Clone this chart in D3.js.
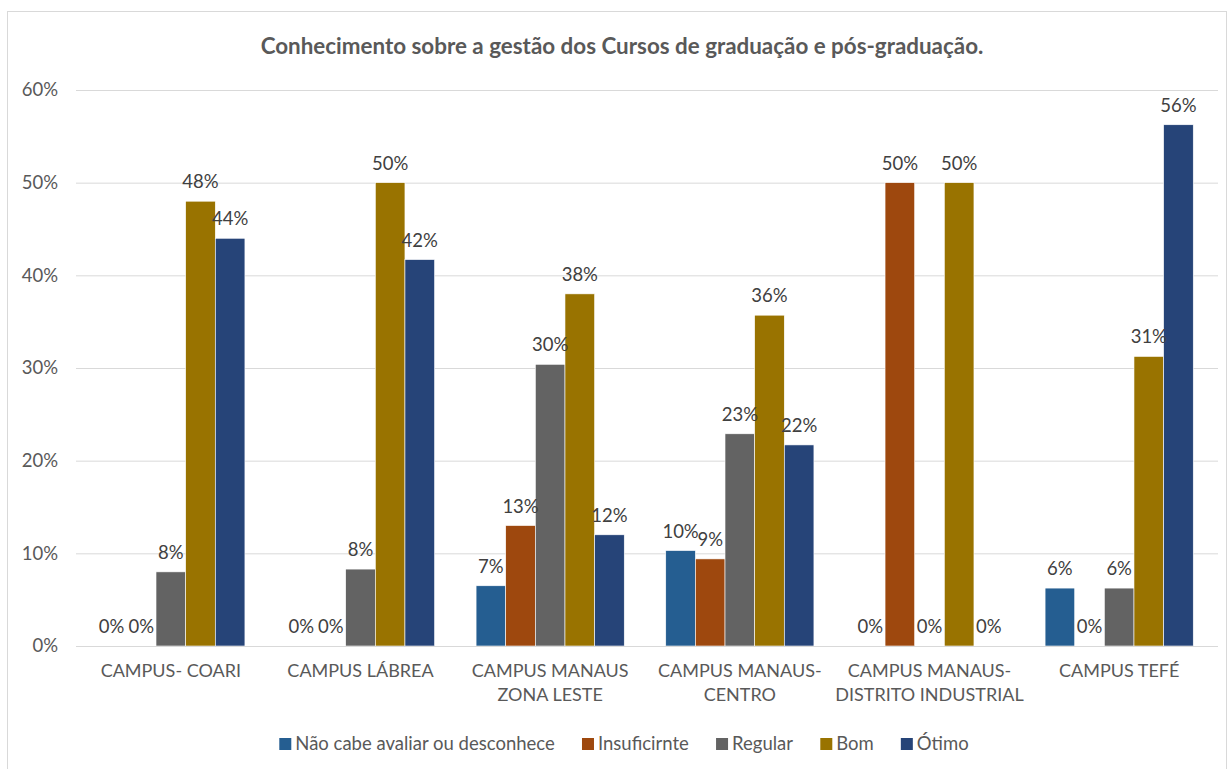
<!DOCTYPE html>
<html>
<head>
<meta charset="utf-8">
<script src="https://cdn.jsdelivr.net/npm/d3@7"></script>
<style>
  body { margin: 0; background: #fff; }
  text { font-family: Lato, "Open Sans", sans-serif; }
</style>
</head>
<body>
<div id="chart"></div>
<script>
// campus categories (x axis, two lines where the original wraps)
const campi = [
    ["CAMPUS- COARI"],
    ["CAMPUS LÁBREA"],
    ["CAMPUS MANAUS", "ZONA LESTE"],
    ["CAMPUS MANAUS-", "CENTRO"],
    ["CAMPUS MANAUS-", "DISTRITO INDUSTRIAL"],
    ["CAMPUS TEFÉ"]
];
const series = ["Não cabe avaliar ou desconhece", "Insuficirnte", "Regular", "Bom", "Ótimo"];
const seriesColors = ["#255E91", "#9E480E", "#636363", "#997300", "#264478"];

// values in %, one array per series, same order as campi
const naoCabe      = [0, 0, 6.5, 10.3, 0, 6.25];
const insuficiente = [0, 0, 13.0, 9.4, 50, 0];
const regular      = [8.0, 8.3, 30.4, 22.9, 0, 6.25];
const bom          = [48.0, 50.0, 38.0, 35.7, 50, 31.25];
const otimo        = [44.0, 41.7, 12.0, 21.7, 0, 56.25];
const values = [naoCabe, insuficiente, regular, bom, otimo];

const yTicks = [0, 10, 20, 30, 40, 50, 60];

var width = 1228, height = 769;
var plot = { left: 76, right: 1214, top: 90, bottom: 646 };
var fs = "18px";

var svg = d3.select("#chart").append("svg")
    .attr("width", width)
    .attr("height", height);

// chart frame
svg.append("rect")
    .attr("x", 7.5).attr("y", 11.5)
    .attr("width", width - 9).attr("height", height - 8)
    .attr("fill", "#fff")
    .attr("stroke", "#d9d9d9");

svg.append("text")
    .attr("x", 622).attr("y", 54)
    .attr("text-anchor", "middle")
    .attr("font-size", "22.4px")
    .attr("font-weight", "bold")
    .attr("fill", "#595959")
    .text("Conhecimento sobre a gestão dos Cursos de graduação e pós-graduação.");

var y = d3.scaleLinear().domain([0, 60]).range([plot.bottom, plot.top]);

var x0 = d3.scaleBand()
    .domain(d3.range(campi.length))
    .range([plot.left, plot.right]);

var x1 = d3.scaleBand()
    .domain(d3.range(series.length))
    .range([0, x0.bandwidth()])
    .paddingOuter(0.7);

// gridlines + y labels
var yAxis = d3.axisLeft(y)
    .tickValues(yTicks)
    .tickFormat(d => d + "%")
    .tickSize(-(plot.right - plot.left + 4))
    .tickPadding(18);

var gy = svg.append("g")
    .attr("transform", "translate(" + plot.left + ",0)")
    .call(yAxis);
gy.select(".domain").remove();
gy.selectAll(".tick line").attr("stroke", "#d9d9d9").attr("stroke-width", 1);
gy.selectAll(".tick text")
    .attr("font-size", "18.5px")
    .attr("fill", "#595959")
    .attr("font-family", "Lato, sans-serif");

// bars
var groups = svg.selectAll(".campus")
    .data(campi)
    .join("g")
    .attr("class", "campus")
    .attr("transform", (d, i) => "translate(" + x0(i) + ",0)");

groups.selectAll("rect")
    .data((d, i) => values.map((s, j) => ({ s: j, v: s[i] })))
    .join("rect")
    .attr("x", d => x1(d.s))
    .attr("width", x1.bandwidth())
    .attr("y", d => y(d.v))
    .attr("height", d => y(0) - y(d.v))
    .attr("fill", d => seriesColors[d.s])
    .attr("stroke", "#fff")
    .attr("stroke-width", 0.6);

groups.selectAll(".lbl")
    .data((d, i) => values.map((s, j) => ({ s: j, v: s[i] })))
    .join("text")
    .attr("class", "lbl")
    .attr("x", d => x1(d.s) + x1.bandwidth() / 2)
    .attr("y", d => y(d.v) - 13)
    .attr("text-anchor", "middle")
    .attr("font-size", "18.5px")
    .attr("fill", "#404040")
    .text(d => Math.round(d.v) + "%");

// baseline
svg.append("line")
    .attr("x1", plot.left).attr("x2", plot.right + 4)
    .attr("y1", y(0) + 0.5).attr("y2", y(0) + 0.5)
    .attr("stroke", "#d9d9d9");

// category labels
var gx = svg.append("g");
campi.forEach(function (lines, i) {
    var t = gx.append("text")
        .attr("x", x0(i) + x0.bandwidth() / 2)
        .attr("y", 677)
        .attr("text-anchor", "middle")
        .attr("font-size", fs)
        .attr("fill", "#595959");
    lines.forEach(function (l, k) {
        t.append("tspan")
            .attr("x", x0(i) + x0.bandwidth() / 2)
            .attr("dy", k === 0 ? 0 : 24)
            .text(l);
    });
});

// legend
var legend = svg.append("g").attr("class", "legend");
var items = legend.selectAll("g")
    .data(series)
    .join("g");
items.append("rect")
    .attr("width", 12).attr("height", 12)
    .attr("y", -12)
    .attr("fill", (d, i) => seriesColors[i]);
items.append("text")
    .attr("x", 16)
    .attr("font-size", "18.5px")
    .attr("fill", "#595959")
    .text(d => d);

var gap = 27, xPos = 0, widths = [];
items.each(function () { widths.push(this.getBBox().width); });
var total = d3.sum(widths) + gap * (widths.length - 1);
xPos = 624 - total / 2;
items.attr("transform", function (d, i) {
    var tx = xPos;
    xPos += widths[i] + gap;
    return "translate(" + tx + ",750)";
});
</script>
</body>
</html>
